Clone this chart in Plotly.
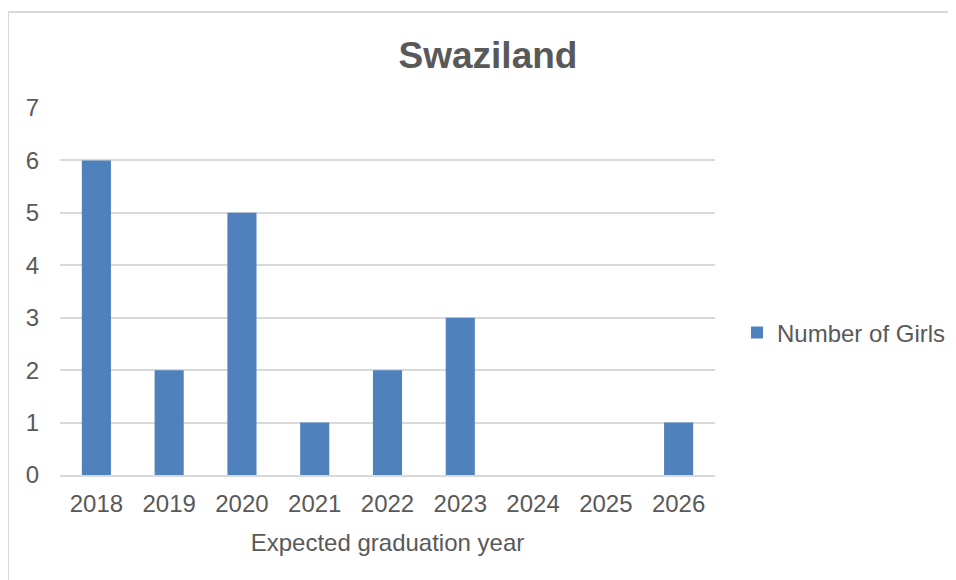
import plotly.graph_objects as go

years = ["2018", "2019", "2020", "2021", "2022", "2023", "2024", "2025", "2026"]
girls = [6, 2, 5, 1, 2, 3, 0, 0, 1]
series_name = "Number of Girls"
chart_title = "Swaziland"
x_title = "Expected graduation year"

FONT = "Liberation Sans, Arial, sans-serif"
GRAY = "#595959"

W, H = 940, 572
L, T, PW, PH = 52, 100, 655, 367

fig = go.Figure()
fig.add_trace(go.Bar(
    x=years, y=girls, name=series_name,
    marker=dict(color="#4f81bd", line=dict(width=0)),
    width=0.4,
))

fx0 = (0 - L) / PW
fy1 = (T + PH - 4) / PH
fig.update_layout(
    width=W, height=H,
    margin=dict(l=L, r=W - L - PW, t=T, b=H - T - PH, autoexpand=False),
    paper_bgcolor="white", plot_bgcolor="white",
    title=dict(text="<b>" + chart_title + "</b>", x=480 / W, xanchor="center",
               y=1 - 47 / H, yanchor="middle",
               font=dict(family=FONT, size=37, color=GRAY)),
    showlegend=True,
    legend=dict(x=(729 - L) / PW, xanchor="left", y=0.387, yanchor="middle",
                font=dict(family=FONT, size=24, color=GRAY),
                itemwidth=30, bgcolor="rgba(0,0,0,0)"),
    xaxis=dict(
        title=dict(text=x_title, font=dict(family=FONT, size=24, color=GRAY), standoff=18),
        tickfont=dict(family=FONT, size=24, color=GRAY),
        showline=True, linecolor="#d9d9d9", linewidth=2,
        ticks="", showgrid=False,
        ticklabelstandoff=6,
    ),
    yaxis=dict(
        range=[0, 7], dtick=1,
        tickfont=dict(family=FONT, size=24, color=GRAY),
        showgrid=True, gridcolor="#d9d9d9", gridwidth=2,
        zeroline=False, showline=False, ticks="",
        ticklabelstandoff=20,
    ),
    shapes=[
        dict(type="line", xref="paper", yref="paper", x0=fx0, x1=fx0, y0=-0.5, y1=fy1,
             line=dict(color="#d9d9d9", width=2), layer="below"),
        dict(type="line", xref="paper", yref="paper", x0=fx0, x1=1.6, y0=fy1, y1=fy1,
             line=dict(color="#d9d9d9", width=2), layer="below"),
    ],
)

fig.write_html("out.html")
